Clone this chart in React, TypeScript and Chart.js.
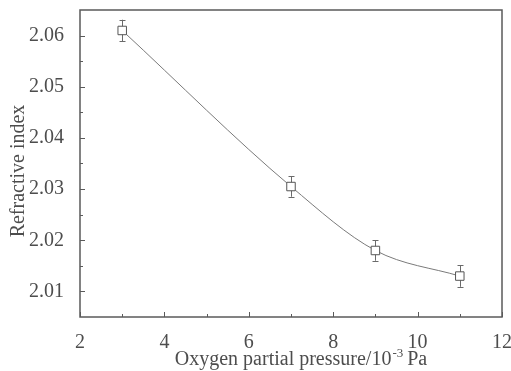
import React, { useEffect, useRef } from "react";
import { Chart, registerables } from "chart.js";

Chart.register(...registerables);

const pressures = [3, 7, 9, 11];
const refractiveIndex = [2.061, 2.0305, 2.018, 2.013];
const errorBars = [0.0021, 0.002, 0.002, 0.0021];
const xTicks = [2, 4, 6, 8, 10, 12];
const xMinorTicks = [3, 5, 7, 9, 11];
const yTicks = [2.01, 2.02, 2.03, 2.04, 2.05, 2.06];
const yMinorTicks = [2.015, 2.025, 2.035, 2.045, 2.055];

const FONT = "'Liberation Serif', 'Times New Roman', serif";
const TEXT = "#4d4d4d";
const AXIS = "#5a5a5a";

const decorPlugin = {
  id: "decor",
  beforeDatasetsDraw(chart: any) {
    const ctx = chart.ctx;
    const xs = chart.scales.x;
    const ys = chart.scales.y;
    ctx.save();
    ctx.strokeStyle = "#6a6a6a";
    ctx.lineWidth = 1;
    pressures.forEach((p, i) => {
      const px = Math.round(xs.getPixelForValue(p)) + 0.5;
      const top = ys.getPixelForValue(refractiveIndex[i] + errorBars[i]);
      const bot = ys.getPixelForValue(refractiveIndex[i] - errorBars[i]);
      ctx.beginPath();
      ctx.moveTo(px, top);
      ctx.lineTo(px, bot);
      ctx.moveTo(px - 3, Math.round(top) + 0.5);
      ctx.lineTo(px + 3, Math.round(top) + 0.5);
      ctx.moveTo(px - 3, Math.round(bot) + 0.5);
      ctx.lineTo(px + 3, Math.round(bot) + 0.5);
      ctx.stroke();
    });
    ctx.restore();
  },
  afterDraw(chart: any) {
    const ctx = chart.ctx;
    const a = chart.chartArea;
    const xs = chart.scales.x;
    const ys = chart.scales.y;
    ctx.save();
    ctx.strokeStyle = AXIS;
    ctx.lineWidth = 1.5;
    ctx.strokeRect(a.left, a.top, a.right - a.left, a.bottom - a.top);
    ctx.lineWidth = 1;
    ctx.beginPath();
    xTicks.forEach((v) => {
      const px = Math.round(xs.getPixelForValue(v)) + 0.5;
      ctx.moveTo(px, a.bottom);
      ctx.lineTo(px, a.bottom - 5);
    });
    xMinorTicks.forEach((v) => {
      const px = Math.round(xs.getPixelForValue(v)) + 0.5;
      ctx.moveTo(px, a.bottom);
      ctx.lineTo(px, a.bottom - 3);
    });
    yTicks.forEach((v) => {
      const py = Math.round(ys.getPixelForValue(v)) + 0.5;
      ctx.moveTo(a.left, py);
      ctx.lineTo(a.left + 5, py);
    });
    yMinorTicks.forEach((v) => {
      const py = Math.round(ys.getPixelForValue(v)) + 0.5;
      ctx.moveTo(a.left, py);
      ctx.lineTo(a.left + 3, py);
    });
    ctx.stroke();

    // axis titles
    ctx.fillStyle = TEXT;
    ctx.textBaseline = "alphabetic";
    const main = "Oxygen partial pressure/10";
    const sup = "-3";
    const tail = " Pa";
    ctx.font = `20px ${FONT}`;
    const wMain = ctx.measureText(main).width;
    const wTail = ctx.measureText(tail).width;
    ctx.font = `13px ${FONT}`;
    const wSup = ctx.measureText(sup).width;
    const total = wMain + wSup + wTail;
    let x0 = 301 - total / 2;
    const base = 365;
    ctx.textAlign = "left";
    ctx.font = `20px ${FONT}`;
    ctx.fillText(main, x0, base);
    ctx.font = `13px ${FONT}`;
    ctx.fillText(sup, x0 + wMain + 1, base - 8);
    ctx.font = `20px ${FONT}`;
    ctx.fillText(tail, x0 + wMain + wSup, base);

    ctx.save();
    ctx.translate(24, 171);
    ctx.rotate(-Math.PI / 2);
    ctx.textAlign = "center";
    ctx.font = `20px ${FONT}`;
    ctx.fillText("Refractive index", 0, 0);
    ctx.restore();
    ctx.restore();
  },
};

export default function App() {
  const ref = useRef<HTMLCanvasElement | null>(null);
  useEffect(() => {
    document.body.style.margin = "0";
    if (!ref.current) return;
    const chart = new Chart(ref.current, {
      type: "line",
      data: {
        datasets: [
          {
            data: pressures.map((p, i) => ({ x: p, y: refractiveIndex[i] })),
            borderColor: "#7a7a7a",
            borderWidth: 1,
            cubicInterpolationMode: "monotone",
            pointStyle: "rect",
            pointRadius: 6,
            pointBorderWidth: 1,
            pointBorderColor: "#555",
            pointBackgroundColor: "#ffffff",
          },
        ],
      },
      options: {
        responsive: false,
        animation: false,
        layout: { autoPadding: false, padding: { left: 0, right: 9, top: 10, bottom: 0 } },
        plugins: { legend: { display: false }, tooltip: { enabled: false } },
        scales: {
          x: {
            type: "linear",
            min: 2,
            max: 12,
            grid: { display: false },
            border: { display: false },
            afterBuildTicks: (s: any) => {
              s.ticks = xTicks.map((v) => ({ value: v }));
            },
            afterFit: (s: any) => {
              s.height = 54;
              s.paddingLeft = 0;
              s.paddingRight = 0;
            },
            ticks: {
              padding: 6,
              color: TEXT,
              font: { family: FONT, size: 20 },
              maxRotation: 0,
            },
          },
          y: {
            type: "linear",
            min: 2.005,
            max: 2.065,
            grid: { display: false },
            border: { display: false },
            afterBuildTicks: (s: any) => {
              s.ticks = yTicks.map((v) => ({ value: v }));
            },
            afterFit: (s: any) => {
              s.width = 80;
              s.paddingTop = 0;
              s.paddingBottom = 0;
            },
            ticks: {
              padding: 8,
              color: TEXT,
              font: { family: FONT, size: 20 },
              callback: (v: any) => Number(v).toFixed(2),
            },
          },
        },
      },
      plugins: [decorPlugin],
    });
    return () => chart.destroy();
  }, []);
  return (
    <div style={{ width: 511, height: 371 }}>
      <canvas ref={ref} width={511} height={371} />
    </div>
  );
}
